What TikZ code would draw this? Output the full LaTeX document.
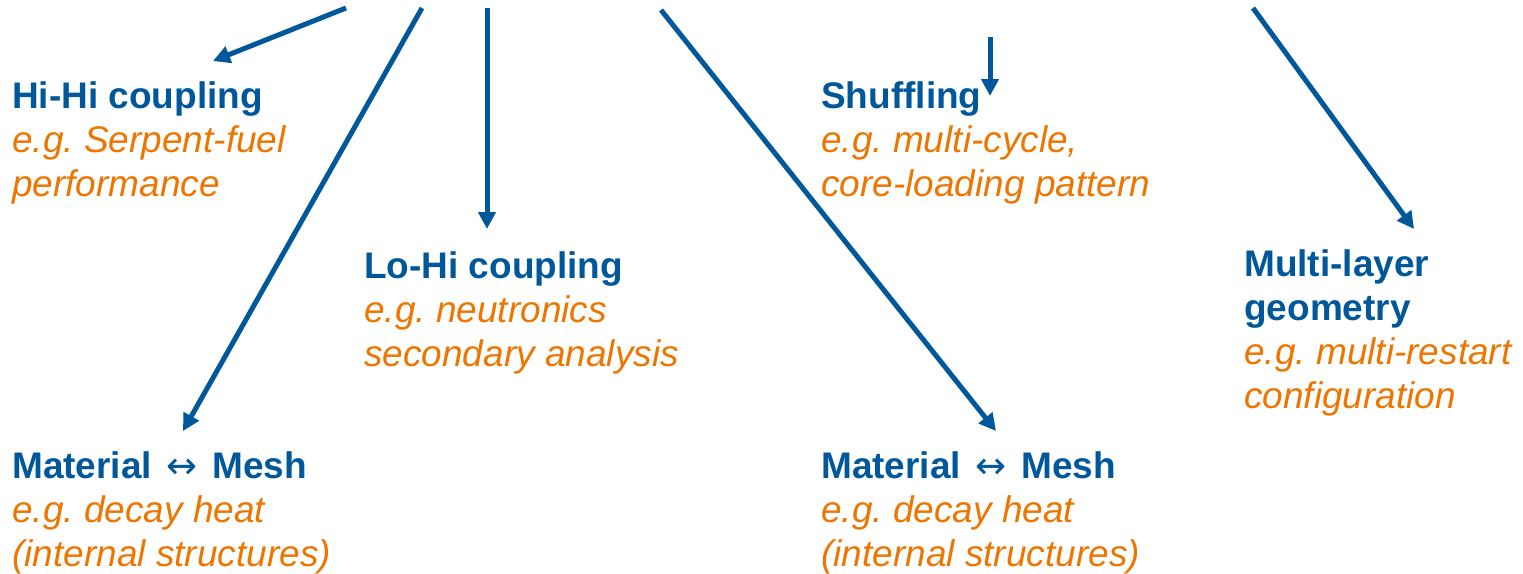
\documentclass[tikz,border=0pt]{standalone}
\usepackage{fontspec}
\setmainfont{Liberation Sans}
\newfontfamily\arrowfont{DejaVu Sans}
\usepackage{tikz}
\usetikzlibrary{arrows.meta}
\definecolor{tblue}{RGB}{0,88,154}
\definecolor{torange}{RGB}{237,117,0}
\newcommand{\hd}[1]{\textcolor{tblue}{\bfseries #1}}
\newcommand{\ex}[1]{\textcolor{torange}{\itshape #1}}
\newcommand{\lr}{ \hspace{0.12em}{\arrowfont\mdseries ↔}\hspace{0.12em} }
\frenchspacing

\begin{document}
\begin{tikzpicture}[x=1pt,y=-1pt,
  blk/.style={anchor=base west,align=left,inner sep=0pt,font=\fontsize{37}{44}\selectfont},
  flow/.style={draw=tblue,line width=5pt,-{Triangle[length=17pt,width=17pt]}}]
\useasboundingbox (0,0) rectangle (1523,573);
% base anchor sits on the last line
\node[blk] (hihi) at (12,196) {\hd{Hi-Hi coupling}\\ \ex{e.g. Serpent-fuel}\\ \ex{performance}};
\node[blk] (lohi) at (364,366) {\hd{Lo-Hi coupling}\\ \ex{e.g. neutronics}\\ \ex{secondary analysis}};
\node[blk] (matl) at (12,566) {\hd{Material\lr Mesh}\\ \ex{e.g. decay heat}\\ \ex{(internal structures)}};
\node[blk] (shuf) at (821,196) {\hd{Shuffling}\\ \ex{e.g. multi-cycle,}\\ \ex{core-loading pattern}};
\node[blk] (mult) at (1244,408) {\hd{Multi-layer}\\ \hd{geometry}\\ \ex{e.g. multi-restart}\\ \ex{configuration}};
\node[blk] (matr) at (821,566) {\hd{Material\lr Mesh}\\ \ex{e.g. decay heat}\\ \ex{(internal structures)}};
% free ends at the top
\coordinate (s1) at (346,8);
\coordinate (s2) at (422,8);
\coordinate (s3) at (487,8);
\coordinate (s4) at (661,10);
\coordinate (s5) at (990,37);
\coordinate (s6) at (1253,8);
% arrow tips
\coordinate (t1) at (213,61);
\coordinate (t2) at (183,431);
\coordinate (t3) at (487,229);
\coordinate (t4) at (996,431);
\coordinate (t5) at (990,96);
\coordinate (t6) at (1414,229);
\draw[flow] (s1) -- (t1);
\draw[flow] (s2) -- (t2);
\draw[flow] (s3) -- (t3);
\draw[flow] (s4) -- (t4);
\draw[flow] (s5) -- (t5);
\draw[flow] (s6) -- (t6);
\end{tikzpicture}
\end{document}
